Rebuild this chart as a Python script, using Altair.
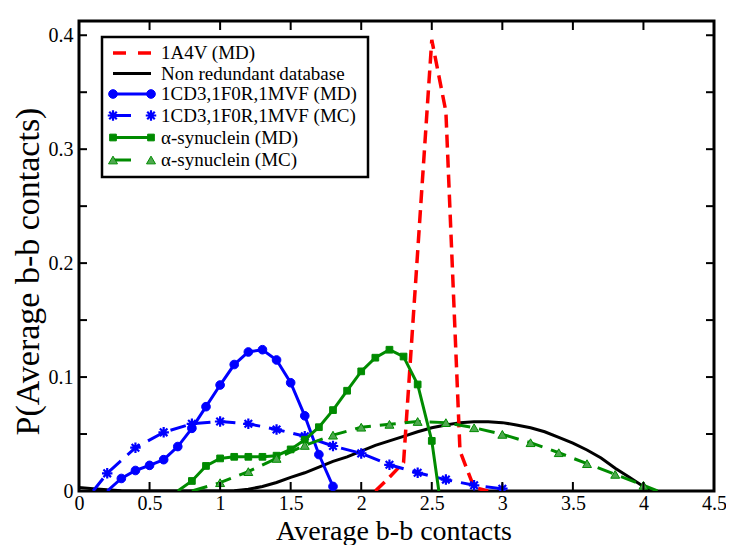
import altair as alt
import pandas as pd

# ---------------- data ----------------
red_x = [2.1, 2.2, 2.3, 2.4, 2.5, 2.6, 2.7, 2.8, 2.9]
red_y = [0.0, 0.012, 0.025, 0.21, 0.396, 0.333, 0.035, 0.003, 0.0]

black_x = [0.0, 0.1, 0.2, 0.3, 0.4, 0.5, 0.6, 0.7, 0.8, 0.9, 1.0,
           1.1, 1.2, 1.3, 1.4, 1.5, 1.6, 1.7, 1.8, 1.9, 2.0,
           2.1, 2.2, 2.3, 2.4, 2.5, 2.6, 2.7, 2.8, 2.9, 3.0,
           3.1, 3.2, 3.3, 3.4, 3.5, 3.6, 3.7, 3.8, 3.9, 4.0, 4.05]
black_y = [0.003, 0.002, 0.001, 0.0003, 0.0, 0.0, 0.0, 0.0, 0.0, 0.0, 0.0,
           0.0003, 0.0015, 0.004, 0.0075, 0.012, 0.016, 0.021, 0.026, 0.030, 0.035,
           0.040, 0.044, 0.048, 0.052, 0.0555, 0.058, 0.060, 0.0607, 0.0607, 0.060,
           0.058, 0.0555, 0.052, 0.047, 0.042, 0.036, 0.029, 0.020, 0.012, 0.004, 0.0]

blue_md_x = [0.2, 0.3, 0.4, 0.5, 0.6, 0.7, 0.8, 0.9, 1.0, 1.1, 1.2, 1.3,
             1.4, 1.5, 1.6, 1.7, 1.8]
blue_md_y = [0.0, 0.011, 0.018, 0.0225, 0.0275, 0.039, 0.055, 0.074, 0.093,
             0.111, 0.122, 0.124, 0.115, 0.095, 0.066, 0.032, 0.004]

blue_mc_x = [0.1, 0.2, 0.4, 0.6, 0.8, 1.0, 1.2, 1.4, 1.6, 1.8, 2.0, 2.2,
             2.4, 2.6, 2.8, 3.0]
blue_mc_y = [0.0, 0.0155, 0.038, 0.0515, 0.059, 0.061, 0.059, 0.054, 0.048,
             0.0395, 0.033, 0.023, 0.016, 0.010, 0.005, 0.002]

green_md_x = [0.7, 0.8, 0.9, 1.0, 1.1, 1.2, 1.3, 1.4, 1.5, 1.6, 1.7, 1.8,
              1.9, 2.0, 2.1, 2.2, 2.3, 2.4, 2.5, 2.55]
green_md_y = [0.0, 0.0088, 0.022, 0.0286, 0.030, 0.030, 0.030, 0.031, 0.0365,
              0.045, 0.056, 0.071, 0.088, 0.105, 0.117, 0.124, 0.118, 0.0935,
              0.044, 0.0]

green_mc_x = [0.8, 1.0, 1.2, 1.4, 1.6, 1.8, 2.0, 2.2, 2.4, 2.6, 2.8, 3.0,
              3.2, 3.4, 3.6, 3.8, 4.0, 4.1]
green_mc_y = [0.0, 0.0073, 0.017, 0.0286, 0.040, 0.049, 0.056, 0.0585, 0.061,
              0.060, 0.0555, 0.0497, 0.0424, 0.0336, 0.024, 0.0146, 0.005, 0.0]

x_tick_values = [0, 0.5, 1, 1.5, 2, 2.5, 3, 3.5, 4, 4.5]
y_label_values = [0, 0.1, 0.2, 0.3, 0.4]
y_tick_values = [0.05, 0.1, 0.15, 0.2, 0.25, 0.3, 0.35, 0.4]

legend_labels = ["1A4V (MD)", "Non redundant database", "1CD3,1F0R,1MVF (MD)",
                 "1CD3,1F0R,1MVF (MC)", "\u03b1-synuclein (MD)", "\u03b1-synuclein (MC)"]

# ---------------- styling ----------------
W, H = 635, 470
FONT = "Liberation Serif, Times New Roman, serif"
RED, BLACK, BLUE, GREEN = "#ff0000", "#000000", "#0000ff", "#008b00"
GREEN_FILL = "#4ea84e"
ASTERISK = "M-1,0L1,0M0,-1L0,1M-0.72,-0.72L0.72,0.72M-0.72,0.72L0.72,-0.72"

xscale = alt.Scale(domain=[0, 4.5], nice=False, zero=False)
yscale = alt.Scale(domain=[0, 0.4125], nice=False, zero=False)

X = alt.X("x:Q", scale=xscale, axis=alt.Axis(
    values=x_tick_values, format="~g", ticks=False, domain=False, grid=False,
    labelFont=FONT, labelFontSize=20, labelColor="black", labelPadding=2,
    labelFlush=False, title="Average b-b contacts", titleFont=FONT,
    titleFontSize=28, titleFontWeight="normal", titleColor="black",
    titleBaseline="alphabetic", titleY=48, titleX=W / 2 - 3))
Y = alt.Y("y:Q", scale=yscale, axis=alt.Axis(
    values=y_label_values, format="~g", ticks=False, domain=False, grid=False,
    labelFont=FONT, labelFontSize=20, labelColor="black", labelPadding=6,
    labelFlush=False, title="P(Average b-b contacts)", titleFont=FONT,
    titleFontSize=34, titleFontWeight="normal", titleColor="black",
    titleBaseline="alphabetic", titleAlign="center", titleAngle=270,
    titleX=-41, titleY=250))


def df(xs, ys):
    return pd.DataFrame({"x": xs, "y": ys})


layers = []


def series(xs, ys, color, dash=None, shape=None, size=60, filled=True,
           fill=None, sw=3):
    d = df(xs, ys)
    kw = dict(color=color, strokeWidth=sw, clip=True)
    if dash:
        kw["strokeDash"] = dash
    layers.append(alt.Chart(d).mark_line(**kw).encode(x=X, y=Y))
    if shape:
        pk = dict(shape=shape, size=size, clip=True, opacity=1)
        if filled:
            pk.update(filled=True, fill=fill or color, stroke=color, strokeWidth=1)
        else:
            pk.update(filled=False, stroke=color, strokeWidth=2.2)
        layers.append(alt.Chart(d).mark_point(**pk).encode(x=X, y=Y)
                      .transform_filter("datum.y > 0"))


series(black_x, black_y, BLACK)
series(red_x, red_y, RED, dash=[13, 7], sw=3.5)
series(blue_md_x, blue_md_y, BLUE, shape="circle", size=75)
series(blue_mc_x, blue_mc_y, BLUE, dash=[16, 9], shape=ASTERISK, size=110,
       filled=False)
series(green_md_x, green_md_y, GREEN, shape="square", size=45)
series(green_mc_x, green_mc_y, GREEN, dash=[16, 9], shape="triangle-up",
       size=80, fill=GREEN_FILL)

# inward ticks on all four sides
xt = pd.DataFrame({"x": x_tick_values})
yt = pd.DataFrame({"y": y_tick_values})
layers.append(alt.Chart(xt).mark_rule(color="black", strokeWidth=2).encode(
    x=X, y=alt.value(H), y2=alt.value(H - 9)))
layers.append(alt.Chart(xt).mark_rule(color="black", strokeWidth=2).encode(
    x=X, y=alt.value(0), y2=alt.value(9)))
layers.append(alt.Chart(yt).mark_rule(color="black", strokeWidth=2).encode(
    y=Y, x=alt.value(0), x2=alt.value(8)))
layers.append(alt.Chart(yt).mark_rule(color="black", strokeWidth=2).encode(
    y=Y, x=alt.value(W), x2=alt.value(W - 8)))

# ---------------- legend box ----------------
one = pd.DataFrame({"a": [0]})
layers.append(alt.Chart(one).mark_rect(fill="white", stroke="black",
                                       strokeWidth=2.5).encode(
    x=alt.value(23), x2=alt.value(289), y=alt.value(16), y2=alt.value(156)))

leg_rows = [
    (legend_labels[0], RED, [13, 12], None, None),
    (legend_labels[1], BLACK, None, None, None),
    (legend_labels[2], BLUE, None, "circle", None),
    (legend_labels[3], BLUE, [18, 20], ASTERISK, None),
    (legend_labels[4], GREEN, None, "square", None),
    (legend_labels[5], GREEN, [18, 20], "triangle-up", GREEN_FILL),
]
leg_y = [32, 52.5, 73, 94.5, 116.5, 139]
x0, x1, xt_ = 34, 72, 82
for (lab, col, dash, shp, fil), yy in zip(leg_rows, leg_y):
    rk = dict(color=col, strokeWidth=3.5 if col == RED else 3)
    if dash:
        rk["strokeDash"] = dash
    layers.append(alt.Chart(one).mark_rule(**rk).encode(
        x=alt.value(x0), x2=alt.value(x1), y=alt.value(yy)))
    if shp:
        for px in (x0, x1):
            if shp == ASTERISK:
                pk = dict(shape=shp, size=110, filled=False, stroke=col,
                          strokeWidth=2.2, opacity=1)
            else:
                sz = {"circle": 75, "square": 45, "triangle-up": 80}[shp]
                pk = dict(shape=shp, size=sz, filled=True, fill=fil or col,
                          stroke=col, strokeWidth=1, opacity=1)
            layers.append(alt.Chart(one).mark_point(**pk).encode(
                x=alt.value(px), y=alt.value(yy)))
    layers.append(alt.Chart(one).mark_text(
        text=lab, font=FONT, fontSize=19, align="left", baseline="middle",
        color="black").encode(x=alt.value(xt_), y=alt.value(yy)))

chart = alt.layer(*layers).properties(
    width=W, height=H,
    background="white",
    autosize=alt.AutoSizeParams(type="none"),
    padding={"left": 71, "top": 13, "right": 12, "bottom": 54},
).configure_view(stroke="black", strokeWidth=3)

chart.save("out.html", embed_options={"renderer": "svg", "actions": False})
